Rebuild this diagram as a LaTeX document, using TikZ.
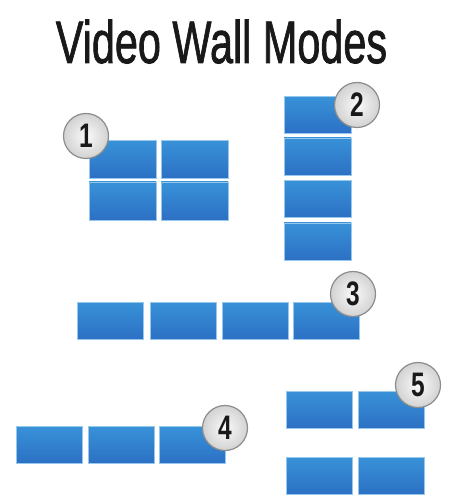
\documentclass[tikz,border=0pt]{standalone}
\usepackage{fontspec}
\setmainfont{Liberation Sans}
\newfontfamily\titlefont[FakeBold=1.5]{Liberation Sans}
\usetikzlibrary{shadings}
\definecolor{tiletop}{RGB}{56,146,216}
\definecolor{tilebot}{RGB}{44,112,196}
\definecolor{tileedge}{RGB}{150,200,238}
\definecolor{badgefill}{RGB}{210,210,210}
\definecolor{badgeedge}{RGB}{140,140,140}
\tikzset{
  tile/.style={rectangle, inner sep=0pt, minimum width=66pt, minimum height=37pt,
    top color=tiletop, bottom color=tilebot, draw=tileedge, line width=0.6pt},
  badge/.style={circle, inner sep=0pt, minimum size=45pt, draw=badgeedge, line width=1.2pt,
    inner color=white!90!badgefill, outer color=badgefill,
    font=\fontsize{34}{34}\selectfont\bfseries, text=black!90},
  title/.style={font=\fontsize{60}{60}\titlefont, text=black!90, anchor=base, inner sep=0pt}
}
\begin{document}
\begin{tikzpicture}[x=1pt,y=-1pt]
\useasboundingbox (0,0) rectangle (453,502);
\node[title] (title) at (221.5,63) {\scalebox{0.69}[1]{Video Wall Modes}};
% group 1
\node[tile, minimum width=67pt, minimum height=38pt] (g1a) at (122.5,159.5) {};
\node[tile, minimum width=67pt, minimum height=38pt] (g1b) at (194.5,159.5) {};
\node[tile, minimum width=67pt, minimum height=38pt] (g1c) at (122.5,201) {};
\node[tile, minimum width=67pt, minimum height=38pt] (g1d) at (194.5,201) {};
\node[badge] (b1) at (86,136) {\scalebox{0.72}[1]{1}};
% group 2
\node[tile, minimum width=67pt] (g2a) at (317.5,115) {};
\node[tile, minimum width=67pt] (g2b) at (317.5,156.5) {};
\node[tile, minimum width=67pt] (g2c) at (317.5,199) {};
\node[tile, minimum width=67pt] (g2d) at (317.5,241.5) {};
\node[badge] (b2) at (357,105) {\scalebox{0.72}[1]{2}};
% group 3
\node[tile] (g3a) at (110,320.5) {};
\node[tile] (g3b) at (183,320.5) {};
\node[tile] (g3c) at (255,320.5) {};
\node[tile] (g3d) at (326,320.5) {};
\node[badge] (b3) at (353,294) {\scalebox{0.72}[1]{3}};
% group 4
\node[tile] (g4a) at (49,445) {};
\node[tile] (g4b) at (121,445) {};
\node[tile] (g4c) at (192.5,445) {};
\node[badge] (b4) at (225,428) {\scalebox{0.72}[1]{4}};
% group 5
\node[tile] (g5a) at (319,409.5) {};
\node[tile] (g5b) at (391,409.5) {};
\node[tile] (g5c) at (319,475.5) {};
\node[tile] (g5d) at (391,475.5) {};
\node[badge] (b5) at (418,385) {\scalebox{0.72}[1]{5}};
\end{tikzpicture}
\end{document}
